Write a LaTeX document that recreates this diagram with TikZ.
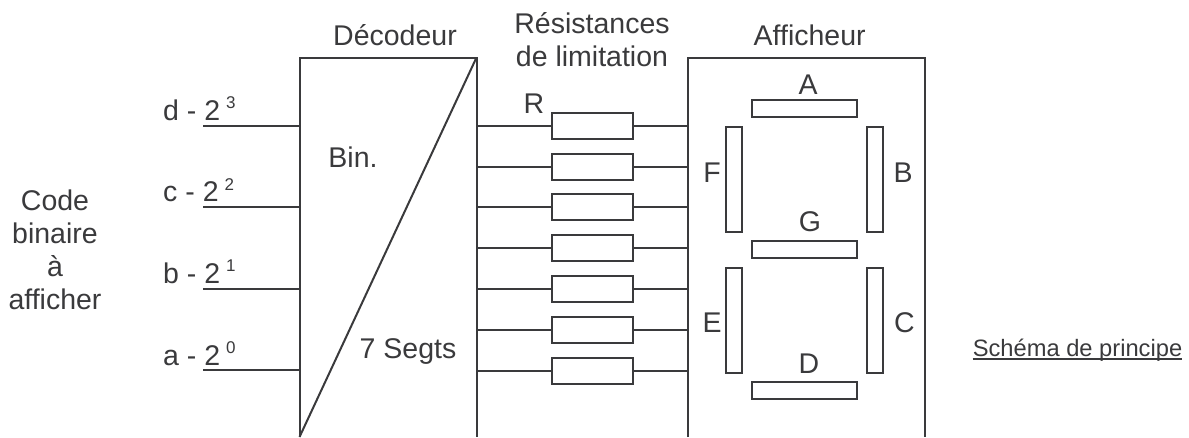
\documentclass[tikz,border=0pt]{standalone}
\usepackage{fontspec}
\setmainfont{Liberation Sans}
\usepackage{tikz}
\usepackage{xcolor}
\usetikzlibrary{positioning,calc}
\definecolor{trait}{RGB}{58,58,60}
\newcommand{\puissance}[1]{\hspace{6pt}\raisebox{11.5pt}{\fontsize{17}{17}\selectfont #1}}
\tikzset{
    fil/.style={line width=2pt,trait},
    resbox/.style={draw=trait,line width=2pt,fill=white,minimum width=81pt,minimum height=26pt,inner sep=0pt},
    seghbox/.style={draw=trait,line width=2pt,minimum width=105pt,minimum height=17pt,inner sep=0pt},
    segvbox/.style={draw=trait,line width=2pt,minimum width=16.5pt,minimum height=105pt,inner sep=0pt},
    texte/.style={trait,font=\fontsize{28.5}{33}\selectfont,inner sep=0pt,anchor=base}
}

\begin{document}
\begin{tikzpicture}[x=1pt,y=-1pt]
    \useasboundingbox (0,0) rectangle (1189,437);

    % Decodeur
    \coordinate (dechg) at (299.5,57.5);
    \coordinate (dechd) at (476.5,57.5);
    \coordinate (decbg) at (299.5,437);
    \coordinate (decbd) at (476.5,437);
    \draw[fil,line join=miter] (decbg) -- (dechg) -- (dechd) -- (decbd);
    \draw[fil] (dechd) -- (decbg);
    \node[texte] (titredec) at (395,45) {Décodeur};
    \node[texte] (bin) at (353,167.7) {Bin.};
    \node[texte] (segts) at (408,358) {7 Segts};

    % Entrees
    \foreach \nom/\lettre/\exp/\ya/\yb in {ed/d/3/125.7/120,ec/c/2/207.3/201.7,eb/b/1/288.5/283.3,ea/a/0/370.3/365} {
        \coordinate (\nom) at (203,\ya);
        \draw[fil] (\nom) -- (\nom -| dechg);
        \node[texte,anchor=base west] (lab\nom) at (163,\yb) {\lettre\ - 2\puissance{\exp}};
    }
    \node[texte,align=center,anchor=center] (code) at (55,250) {Code\\binaire\\à\\afficher};

    % Afficheur
    \coordinate (affhg) at (687.5,57.5);
    \coordinate (affhd) at (925,57.5);
    \coordinate (affbg) at (687.5,437);
    \coordinate (affbd) at (925,437);
    \draw[fil] (affbg) -- (affhg) -- (affhd) -- (affbd);
    \node[texte] (titreaff) at (809.7,45) {Afficheur};

    % Resistances
    \foreach \i/\ya in {1/125.7,2/166.5,3/207.3,4/248,5/288.7,6/329.5,7/370.5} {
        \node[resbox] (r\i) at (592,\ya) {};
        \draw[fil] (r\i.west) -- (r\i.west -| dechd);
        \draw[fil] (r\i.east) -- (r\i.east -| affhg);
    }
    \node[texte,align=center,anchor=center] (titreres) at (592,40) {Résistances\\de limitation};
    \node[texte] (labr) at (534,113) {R};

    % Segments
    \node[seghbox] (sa) at (804.5,108.5) {};
    \node[seghbox] (sg) at (804.5,249.7) {};
    \node[seghbox] (sd) at (804.5,390.5) {};
    \node[segvbox] (sf) at (734,179.5) {};
    \node[segvbox] (sb) at (875,179.5) {};
    \node[segvbox] (se) at (734,320) {};
    \node[segvbox] (sc) at (875,320) {};
    \node[texte] (laba) at (808,94.3) {A};
    \node[texte] (labg) at (810,231) {G};
    \node[texte] (labd) at (809,373) {D};
    \node[texte] (labf) at (712,182.7) {F};
    \node[texte] (labb) at (903,182.7) {B};
    \node[texte] (labe) at (712,332.7) {E};
    \node[texte] (labc) at (904.5,332.7) {C};

    % Legende
    \node[trait,font=\fontsize{23.7}{28}\selectfont,inner sep=0pt,anchor=base] (schema) at (1077.5,356) {Schéma de principe};
    \draw[trait,line width=1.5pt] ([yshift=-3pt]schema.base west) -- ([yshift=-3pt]schema.base east);
\end{tikzpicture}
\end{document}
